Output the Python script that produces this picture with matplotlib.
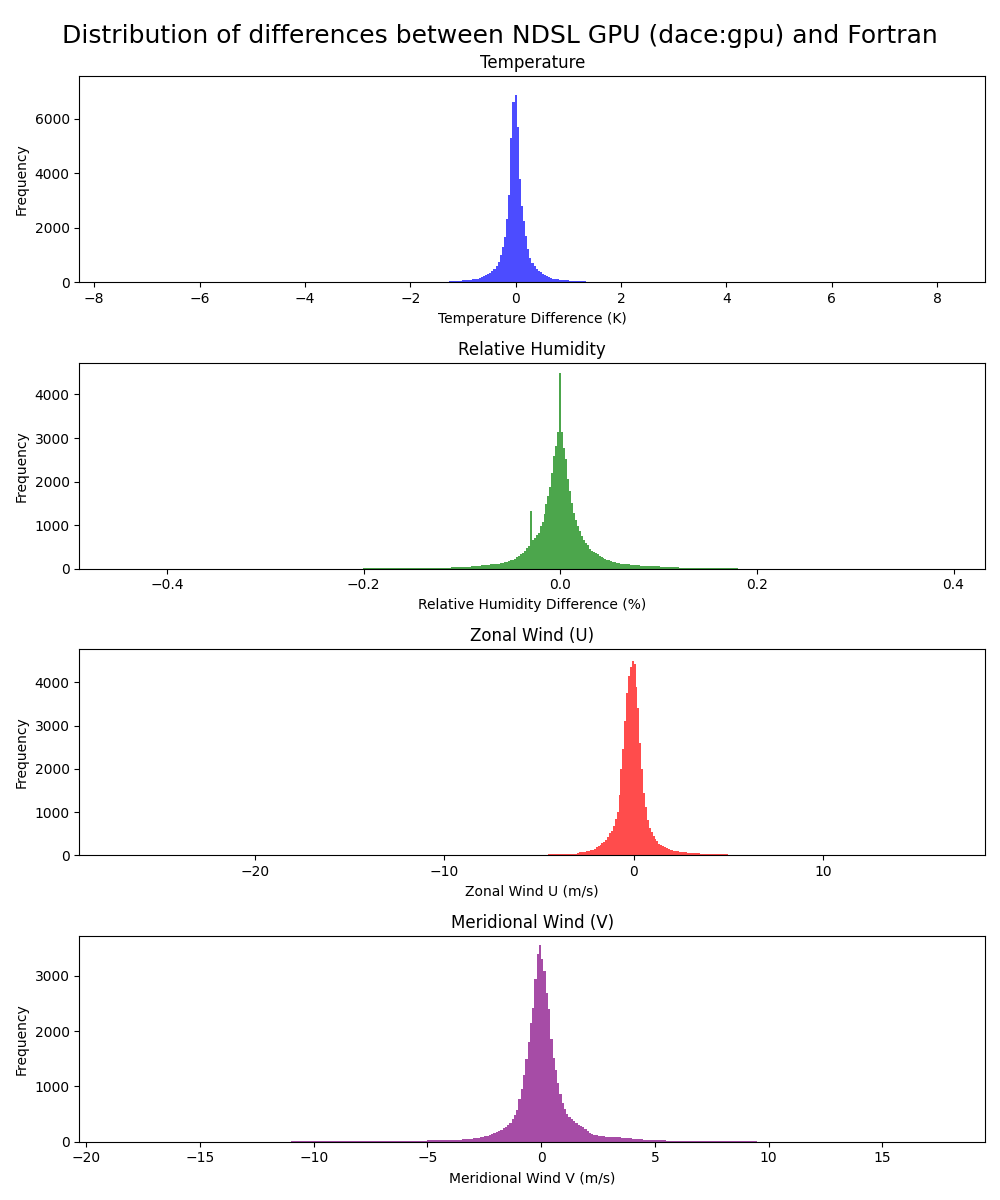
import matplotlib
matplotlib.use("Agg")
import matplotlib.pyplot as plt
import numpy as np

# histogram bins: (low edge, high edge, number of bins) per segment
temp_segments = [(-1.62, 1.62, 81)]
temp_counts = [10, 12, 14, 15, 16, 18, 20, 22, 26, 30,
               35, 38, 45, 52, 60, 64, 70, 75, 82, 88,
               100, 115, 135, 160, 185, 210, 250, 290, 330, 420,
               500, 590, 735, 1000, 1300, 1650, 2300, 3200, 5300, 6600,
               6864,
               5700, 3800, 2800, 2250, 1700, 1200, 900, 720, 600, 500,
               420, 360, 295, 250, 210, 180, 155, 135, 120, 108,
               98, 88, 80, 72, 64, 60, 52, 46, 40, 37,
               33, 30, 28, 26, 25, 24, 22, 20, 18, 12]

rh_segments = [(-0.221, -0.061, 16), (-0.061, 0.061, 61), (0.061, 0.191, 13)]
rh_counts = [3, 5, 6, 7, 8, 10, 12, 13, 15, 20, 26, 33, 45, 58, 75, 100,
             120, 130, 145, 155, 170, 195, 210, 225, 260, 290,
             330, 360, 400, 470, 530, 1322, 650, 700, 780, 830,
             980, 1070, 1250, 1480, 1680, 1880, 2200, 2580, 2820, 3150,
             4500,
             3150, 2780, 2520, 2050, 1780, 1500, 1290, 1110, 990, 860,
             750, 670, 600, 535, 450, 410, 390, 360, 330, 295,
             265, 240, 225, 210, 195, 180, 160, 150, 140, 125,
             115, 92, 70, 55, 42, 32, 25, 19, 14, 10, 8, 6, 4]

u_segments = [(-6.0, -3.0, 6), (-3.0, 3.0, 60), (3.0, 5.5, 5)]
u_counts = [8, 10, 13, 17, 22, 35,
            62, 65, 70, 75, 82, 92, 102, 115, 130, 155,
            180, 215, 240, 272, 310, 360, 420, 510, 565, 680,
            830, 990, 1400, 2000, 2450, 3100, 3750, 4150, 4360, 4500,
            4420, 3900, 3400, 2600, 2000, 1450, 1110, 810, 640, 540,
            455, 370, 325, 265, 235, 210, 180, 160, 140, 128,
            118, 105, 97, 90, 84, 77, 72, 67, 62, 58,
            48, 36, 27, 20, 12]

v_segments = [(-12.0, -3.0, 18), (-3.0, 3.0, 60), (3.0, 10.0, 14)]
v_counts = [3, 4, 5, 6, 6, 7, 8, 9, 10, 12, 14, 16, 18, 21, 25, 30, 36, 48,
            62, 68, 75, 83, 92, 100, 112, 124, 140, 155,
            175, 195, 215, 245, 275, 305, 345, 410, 490, 580,
            780, 950, 1200, 1500, 1800, 2150, 2420, 2950, 3400, 3558,
            3300, 3080, 2690, 2400, 1850, 1520, 1290, 1060, 860, 700,
            600, 505, 455, 405, 370, 335, 305, 285, 260, 230,
            195, 165, 140, 125, 118, 109, 100, 95, 90, 86,
            78, 62, 45, 34, 25, 21, 18, 15, 12, 10, 8, 7, 5, 4]

panels = [
    ("Temperature", "Temperature Difference (K)", temp_segments, temp_counts,
     "blue", (-8.28, 8.91), 7548),
    ("Relative Humidity", "Relative Humidity Difference (%)", rh_segments, rh_counts,
     "green", (-0.489, 0.432), 4727),
    ("Zonal Wind (U)", "Zonal Wind U (m/s)", u_segments, u_counts,
     "red", (-29.25, 18.54), 4767),
    ("Meridional Wind (V)", "Meridional Wind V (m/s)", v_segments, v_counts,
     "purple", (-20.31, 19.52), 3722),
]


def edges_from(segments):
    parts = [np.linspace(lo, hi, n + 1) for lo, hi, n in segments]
    return np.concatenate([parts[0]] + [p[1:] for p in parts[1:]])


fig, axes = plt.subplots(4, 1, figsize=(10, 12))
fig.suptitle("Distribution of differences between NDSL GPU (dace:gpu) and Fortran", fontsize=18)

for ax, (title, xlabel, segs, counts, color, xlim, ytop) in zip(axes, panels):
    ax.stairs(counts, edges_from(segs), fill=True, color=color, alpha=0.7, linewidth=0)
    ax.set_title(title)
    ax.set_xlabel(xlabel)
    ax.set_ylabel("Frequency")
    ax.set_xlim(*xlim)
    ax.set_ylim(0, ytop)

plt.tight_layout()
plt.savefig("out.png", dpi=100)
